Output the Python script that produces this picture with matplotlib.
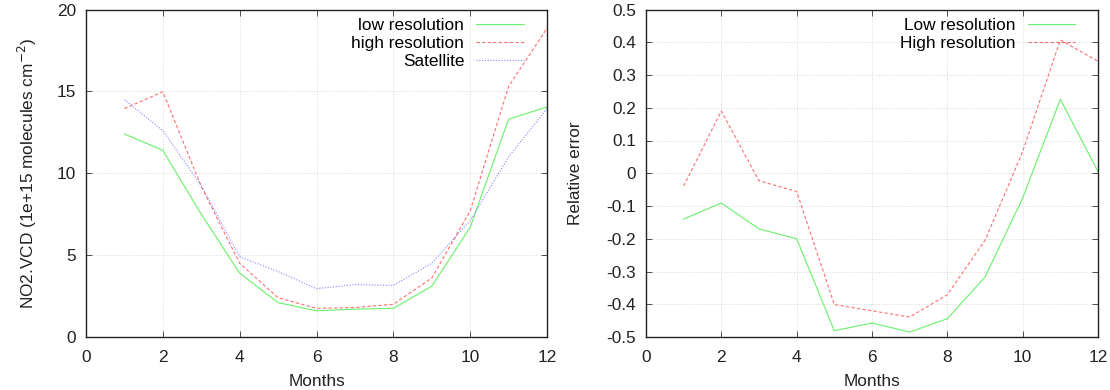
import matplotlib
matplotlib.use("Agg")
import matplotlib.pyplot as plt

plt.rcParams['font.family'] = ['Liberation Sans', 'DejaVu Sans']

months = [1, 2, 3, 4, 5, 6, 7, 8, 9, 10, 11, 12]

# Left panel: NO2 VCD
vcd_low = [12.4, 11.4, 7.5, 3.9, 2.1, 1.6, 1.7, 1.75, 3.1, 6.7, 13.3, 14.05]
vcd_high = [13.95, 14.97, 9.2, 4.5, 2.4, 1.75, 1.8, 2.0, 3.6, 7.7, 15.3, 18.85]
vcd_sat = [14.5, 12.6, 9.25, 4.9, 4.0, 2.95, 3.2, 3.15, 4.5, 7.1, 11.0, 13.95]

# Right panel: relative error
err_low = [-0.14, -0.091, -0.17, -0.20, -0.481, -0.457, -0.485, -0.444, -0.317, -0.076, 0.226, 0.005]
err_high = [-0.039, 0.19, -0.023, -0.056, -0.401, -0.42, -0.439, -0.371, -0.205, 0.066, 0.407, 0.342]

fig = plt.figure(figsize=(11.1, 3.9), dpi=100)
ax1 = fig.add_axes([86/1110, 1-337/390, (547-86)/1110, (337-9.5)/390])
ax2 = fig.add_axes([646/1110, 1-337/390, (1098-646)/1110, (337-9.5)/390])

green = '#44ee44'
red = '#ff3333'
blue = '#3333ff'
fs = 12.4
tc = '#222222'

def style(ax):
    ax.grid(True, color='#cccccc', linestyle=(0, (1, 2)), linewidth=0.6)
    ax.tick_params(direction='in', top=True, right=True, labelsize=fs, length=4,
                   width=0.6, color='#333333', pad=7, labelcolor=tc)
    ax.tick_params(axis='x', pad=9)
    for s in ax.spines.values():
        s.set_linewidth(1.0)
        s.set_color('#222222')
    ax.set_xlim(0, 12)
    ax.set_xticks([0, 2, 4, 6, 8, 10, 12])
    ax.set_xlabel('Months', fontsize=fs, color=tc, labelpad=7)

legkw = dict(loc='upper right', frameon=False, markerfirst=False, fontsize=fs,
             handlelength=2.75, handletextpad=0.7, labelspacing=0.18,
             borderaxespad=0.0, borderpad=0.5, bbox_to_anchor=(0.968, 1.0))

ax1.plot(months, vcd_low, color=green, lw=0.8, alpha=0.8, label='low resolution')
ax1.plot(months, vcd_high, color=red, lw=0.8, alpha=0.7, ls=(0, (3, 2)), label='high resolution')
ax1.plot(months, vcd_sat, color=blue, lw=0.8, alpha=0.6, ls=(0, (1, 1.5)), label='Satellite')
style(ax1)
ax1.set_ylim(0, 20)
ax1.set_yticks([0, 5, 10, 15, 20])
ax1.set_ylabel('NO2.VCD (1e+15 molecules cm$^{-2}$)', fontsize=fs, color=tc, labelpad=13)
ax1.legend(**legkw)

ax2.plot(months, err_low, color=green, lw=0.8, alpha=0.8, label='Low resolution')
ax2.plot(months, err_high, color=red, lw=0.8, alpha=0.7, ls=(0, (3, 2)), label='High resolution')
style(ax2)
ax2.set_ylim(-0.5, 0.5)
ax2.set_yticks([-0.5, -0.4, -0.3, -0.2, -0.1, 0, 0.1, 0.2, 0.3, 0.4, 0.5])
ax2.set_yticklabels(['-0.5', '-0.4', '-0.3', '-0.2', '-0.1', '0', '0.1', '0.2', '0.3', '0.4', '0.5'])
ax2.set_ylabel('Relative error', fontsize=fs, color=tc, labelpad=17)
ax2.legend(**legkw)

fig.savefig('out.png', dpi=100)
